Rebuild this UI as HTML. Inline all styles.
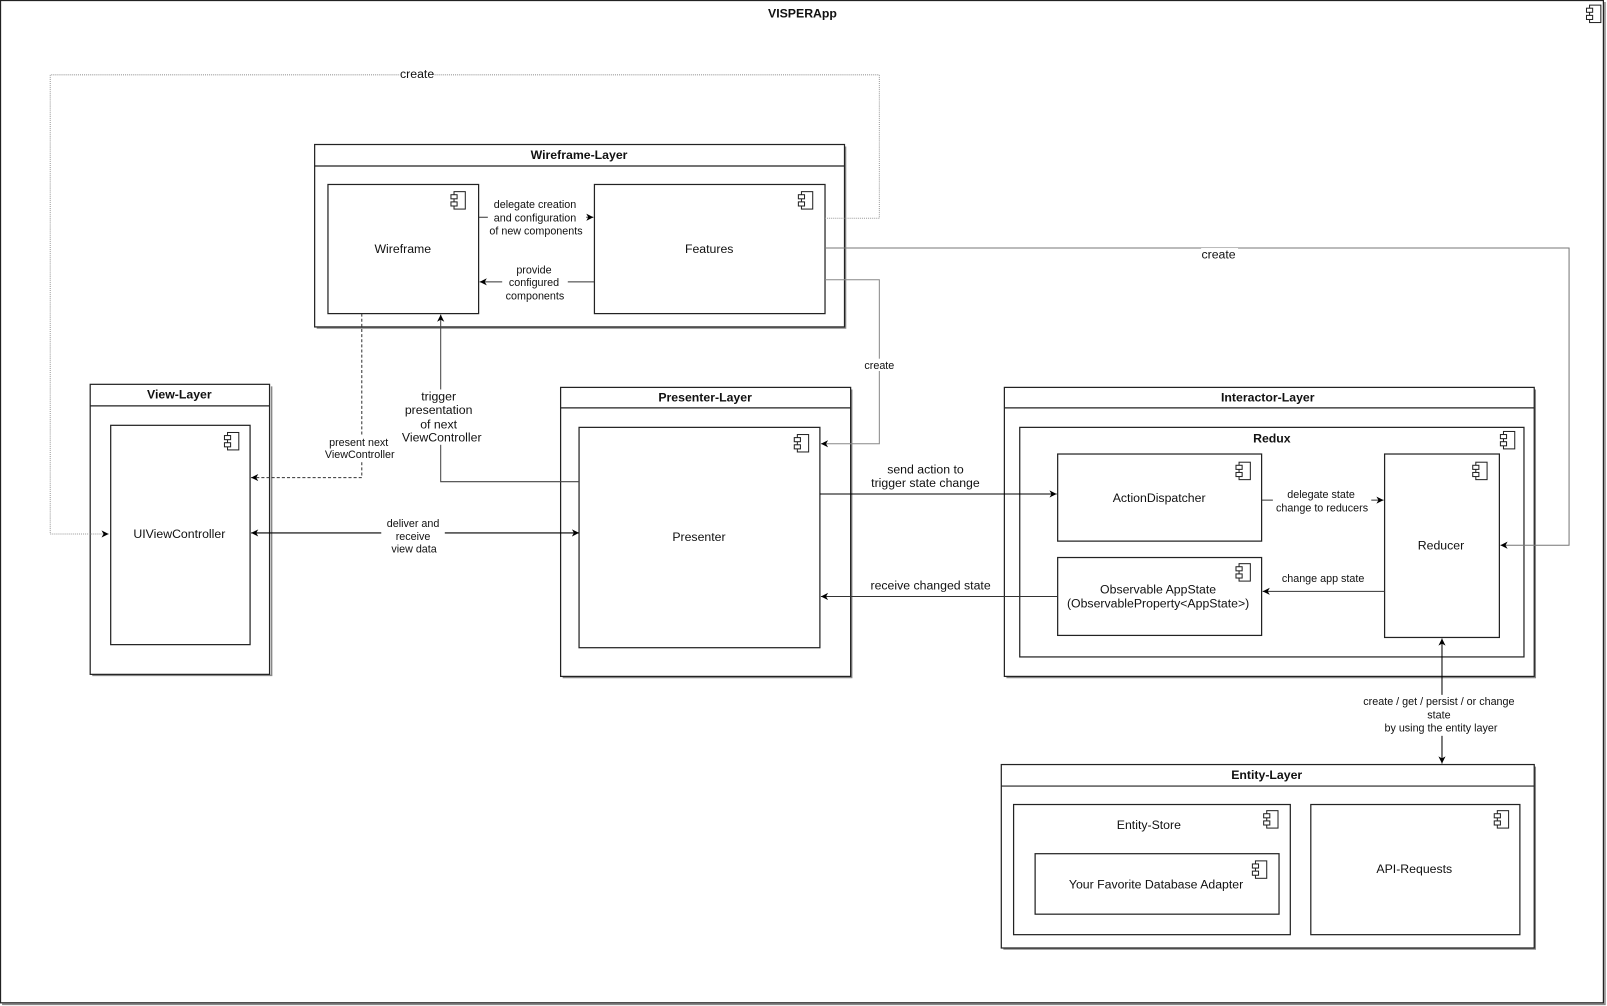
<!DOCTYPE html>
<html><head><meta charset="utf-8"><style>
html,body{margin:0;padding:0;background:#fff;}
svg{display:block;}
text{font-family:"Liberation Sans",Arial,sans-serif;fill:#111;}
.b{font-weight:bold;font-size:12px;}
.t{font-size:12px;}
.s{font-size:10.5px;}
</style></head><body>
<svg width="1607" height="1006" viewBox="0 0 1568 981.6" xmlns="http://www.w3.org/2000/svg">
<defs>
<marker id="a" markerWidth="8" markerHeight="8" refX="7" refY="4" orient="auto" markerUnits="userSpaceOnUse"><path d="M0,0.5 L7,4 L0,7.5 L2,4 Z" fill="#000"/></marker>
<marker id="as" markerWidth="8" markerHeight="8" refX="1" refY="4" orient="auto" markerUnits="userSpaceOnUse"><path d="M8,0.5 L1,4 L8,7.5 L6,4 Z" fill="#000"/></marker>
<g id="ic"><rect x="3" y="0" width="11" height="17" fill="#fff" stroke="#222" stroke-width="1"/><rect x="0" y="3" width="6" height="4" fill="#fff" stroke="#222" stroke-width="1"/><rect x="0" y="10" width="6" height="4" fill="#fff" stroke="#222" stroke-width="1"/></g>
</defs>
<g fill="none" stroke="#888" stroke-width="1.5">
<!-- shadows -->
<path d="M2,980 H1566 V2"/>
<path d="M309,320 H825 V143"/>
<path d="M90,659 H265 V377"/>
<path d="M549,661 H831 V380"/>
<path d="M982,661 H1498 V380"/>
<path d="M979,926 H1498 V748"/>
</g>
<g fill="none" stroke="#222" stroke-width="1.2">
<rect x="0.5" y="0.5" width="1564" height="978"/>
<rect x="307" y="141" width="517" height="178"/><line x1="307" y1="162" x2="824" y2="162"/>
<rect x="320" y="180" width="147" height="126"/>
<rect x="580" y="180" width="225" height="126"/>
<rect x="88" y="375" width="175" height="283"/><line x1="88" y1="396" x2="263" y2="396"/>
<rect x="108" y="415" width="136" height="214"/>
<rect x="547" y="378" width="283" height="282"/><line x1="547" y1="398" x2="830" y2="398"/>
<rect x="565" y="417" width="235" height="215"/>
<rect x="980" y="378" width="517" height="282"/><line x1="980" y1="398" x2="1497" y2="398"/>
<rect x="995" y="417" width="492" height="224"/>
<rect x="1032" y="443" width="199" height="85"/>
<rect x="1032" y="544" width="199" height="76"/>
<rect x="1351" y="443" width="112" height="179"/>
<rect x="977" y="746" width="520" height="179"/><line x1="977" y1="767" x2="1497" y2="767"/>
<rect x="989" y="785" width="270" height="127"/>
<rect x="1010" y="833" width="238" height="59"/>
<rect x="1279" y="785" width="204" height="127"/>
</g>
<use href="#ic" x="1548" y="5"/>
<use href="#ic" x="440" y="187"/>
<use href="#ic" x="779" y="187"/>
<use href="#ic" x="219" y="422"/>
<use href="#ic" x="775" y="424"/>
<use href="#ic" x="1464" y="421"/>
<use href="#ic" x="1206" y="451"/>
<use href="#ic" x="1206" y="550"/>
<use href="#ic" x="1437" y="451"/>
<use href="#ic" x="1233" y="791"/>
<use href="#ic" x="1222" y="840"/>
<use href="#ic" x="1458" y="791"/>
<!-- connectors -->
<g fill="none" stroke-width="1">
<path d="M805,213 H858 V73 H49 V521 H106" stroke="#999" stroke-dasharray="1,1" marker-end="url(#a)"/>
<path d="M805,242 H1531 V532 H1464" stroke="#777" marker-end="url(#a)"/>
<path d="M805,273 H858 V433 H801" stroke="#888" marker-end="url(#a)"/>
<path d="M353,306 V466 H245" stroke="#333" stroke-dasharray="3,2" marker-end="url(#a)"/>
<path d="M565,470 H430 V307" stroke="#444" marker-end="url(#a)"/>
<path d="M245,520 H565" stroke="#000" marker-start="url(#as)" marker-end="url(#a)"/>
<path d="M467,212 H579" stroke="#333" marker-end="url(#a)"/>
<path d="M580,275 H468" stroke="#333" marker-end="url(#a)"/>
<path d="M800,482 H1031" stroke="#000" marker-end="url(#a)"/>
<path d="M1032,582 H801" stroke="#333" marker-end="url(#a)"/>
<path d="M1231,488 H1350" stroke="#333" marker-end="url(#a)"/>
<path d="M1351,577 H1232" stroke="#333" marker-end="url(#a)"/>
<path d="M1407,623 V745" stroke="#000" marker-start="url(#as)" marker-end="url(#a)"/>
</g>
<!-- label backgrounds -->
<g fill="#fff">
<rect x="390" y="66" width="34" height="12"/>
<rect x="1172" y="242" width="36" height="12"/>
<rect x="841" y="350" width="34" height="12"/>
<rect x="316" y="424" width="72" height="26"/>
<rect x="392" y="380" width="77" height="54"/>
<rect x="372" y="503" width="62" height="38"/>
<rect x="476" y="193" width="96" height="38"/>
<rect x="490" y="256" width="64" height="38"/>
<rect x="846" y="450" width="112" height="28"/>
<rect x="848" y="564" width="120" height="14"/>
<rect x="1242" y="476" width="96" height="26"/>
<rect x="1246" y="558" width="90" height="14"/>
<rect x="1326" y="678" width="156" height="40"/>
</g>
<g text-anchor="middle">
<text class="b" x="783" y="17">VISPERApp</text>
<text class="b" x="565" y="155">Wireframe-Layer</text>
<text class="b" x="175" y="389">View-Layer</text>
<text class="b" x="688" y="392">Presenter-Layer</text>
<text class="b" x="1237" y="392">Interactor-Layer</text>
<text class="b" x="1241" y="432">Redux</text>
<text class="b" x="1236" y="760">Entity-Layer</text>
<text class="t" x="393" y="247">Wireframe</text>
<text class="t" x="692" y="247">Features</text>
<text class="t" x="175" y="525">UIViewController</text>
<text class="t" x="682" y="528">Presenter</text>
<text class="t" x="1131" y="490">ActionDispatcher</text>
<text class="t" x="1130" y="579">Observable AppState</text>
<text class="t" x="1130" y="593">(ObservableProperty&lt;AppState&gt;)</text>
<text class="t" x="1406" y="536">Reducer</text>
<text class="t" x="1121" y="809">Entity-Store</text>
<text class="t" x="1128" y="867">Your Favorite Database Adapter</text>
<text class="t" x="1380" y="852">API-Requests</text>
<text class="t" x="407" y="76">create</text>
<text class="t" x="1189" y="252">create</text>
<text class="s" x="858" y="360">create</text>
<text class="s" x="350" y="435">present next</text>
<text class="s" x="351" y="447">ViewController</text>
<text class="t" x="428" y="391">trigger</text>
<text class="t" x="428" y="404">presentation</text>
<text class="t" x="428" y="418">of next</text>
<text class="t" x="431" y="431">ViewController</text>
<text class="s" x="403" y="514">deliver and</text>
<text class="s" x="403" y="527">receive</text>
<text class="s" x="404" y="539">view data</text>
<text class="s" x="522" y="203">delegate creation</text>
<text class="s" x="522" y="216">and configuration</text>
<text class="s" x="523" y="229">of new components</text>
<text class="s" x="521" y="267">provide</text>
<text class="s" x="521" y="279">configured</text>
<text class="s" x="522" y="292">components</text>
<text class="t" x="903" y="462">send action to</text>
<text class="t" x="903" y="475">trigger state change</text>
<text class="t" x="908" y="575">receive changed state</text>
<text class="s" x="1289" y="486">delegate state</text>
<text class="s" x="1290" y="499">change to reducers</text>
<text class="s" x="1291" y="568">change app state</text>
<text class="s" x="1404" y="688">create / get / persist / or change</text>
<text class="s" x="1404" y="701">state</text>
<text class="s" x="1406" y="714">by using the entity layer</text>
</g>
</svg>
</body></html>
